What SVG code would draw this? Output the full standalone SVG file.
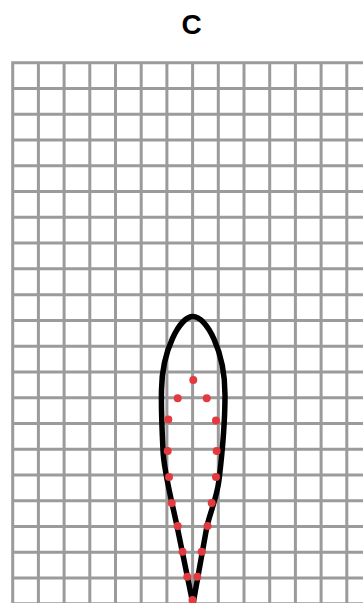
<svg xmlns="http://www.w3.org/2000/svg" width="363" height="603" viewBox="0 0 363 603">
<style>
.grid{stroke:#9b9b9b;stroke-width:3;fill:none}
.outline{stroke:#000;stroke-width:5.5;fill:none;stroke-linejoin:round;stroke-linecap:round}
.dot{fill:#e23a3f}
.title{font-family:"Liberation Sans",Arial,sans-serif;font-weight:bold;font-size:28px;fill:#000}
</style>
<rect width="363" height="603" fill="#fff"/>
<text id="title" class="title" x="191.5" y="34" text-anchor="middle">C</text>
<g id="grid">
<path class="grid" d="M12.7,62.7V603 M38.4,62.7V603 M64.1,62.7V603 M89.8,62.7V603 M115.5,62.7V603 M141.2,62.7V603 M166.9,62.7V603 M192.6,62.7V603 M218.3,62.7V603 M244,62.7V603 M269.7,62.7V603 M295.4,62.7V603 M321.1,62.7V603 M346.8,62.7V603
M11.2,62.7H363 M11.2,88.47H363 M11.2,114.24H363 M11.2,140.01H363 M11.2,165.78H363 M11.2,191.55H363 M11.2,217.32H363 M11.2,243.09H363 M11.2,268.86H363 M11.2,294.63H363 M11.2,320.4H363 M11.2,346.17H363 M11.2,371.94H363 M11.2,397.71H363 M11.2,423.48H363 M11.2,449.25H363 M11.2,475.02H363 M11.2,500.79H363 M11.2,526.56H363 M11.2,552.33H363 M11.2,578.1H363 M11.2,603.87H363"/>
</g>
<g id="leaf">
<path class="outline" d="M193,604 L177,526 C172.9,506 163.5,470 163,450 C162,430 161,410 161.5,390 C162,350 180,316.5 193,316.5 C206,316.5 225,350 225,395 C225,420 222,455 219,480 C217,497 211,510 207,526 L193,604 Z"/>
</g>
<g id="points">
<circle class="dot" cx="193.3" cy="380" r="4"/>
<circle class="dot" cx="177.7" cy="398.3" r="4"/>
<circle class="dot" cx="206.7" cy="398.3" r="4"/>
<circle class="dot" cx="168.3" cy="419.5" r="4"/>
<circle class="dot" cx="216" cy="420.5" r="4"/>
<circle class="dot" cx="167.7" cy="451" r="4"/>
<circle class="dot" cx="216.7" cy="451" r="4"/>
<circle class="dot" cx="169" cy="477" r="4"/>
<circle class="dot" cx="216" cy="477" r="4"/>
<circle class="dot" cx="171.7" cy="503" r="4"/>
<circle class="dot" cx="211.7" cy="503" r="4"/>
<circle class="dot" cx="177.7" cy="526" r="4"/>
<circle class="dot" cx="207.5" cy="526" r="4"/>
<circle class="dot" cx="182.5" cy="551.7" r="4"/>
<circle class="dot" cx="201.7" cy="551.7" r="4"/>
<circle class="dot" cx="187.3" cy="576.7" r="4"/>
<circle class="dot" cx="197.3" cy="576.7" r="4"/>
<circle class="dot" cx="192.5" cy="600" r="4"/>
</g>
</svg>
